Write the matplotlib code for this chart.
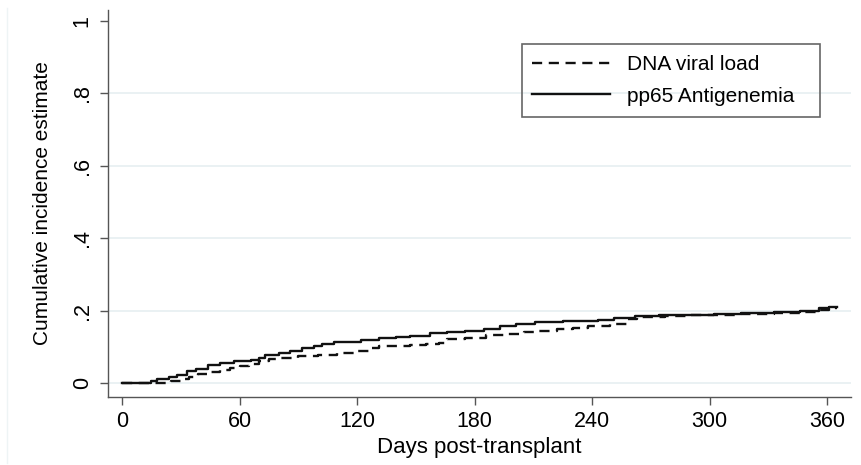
import matplotlib
matplotlib.use("Agg")
import matplotlib.pyplot as plt
from matplotlib.lines import Line2D
from matplotlib.patches import Rectangle

plt.rcParams['font.family'] = ['Liberation Sans', 'DejaVu Sans']

# pp65 Antigenemia (solid) step function
pp65_days = [0, 10, 15, 18, 24, 28, 33, 38, 44, 50, 57, 66, 70, 73, 80, 86, 92, 98,
             102, 108, 114, 122, 131, 140, 147, 157, 166, 175, 185, 193, 201, 211,
             225, 243, 251, 262, 274, 290, 302, 316, 333, 346, 356, 361, 365]
pp65_vals = [0.0, 0.0, 0.005, 0.011, 0.016, 0.022, 0.034, 0.040, 0.050, 0.055, 0.062,
             0.064, 0.070, 0.077, 0.083, 0.088, 0.097, 0.102, 0.108, 0.112, 0.114,
             0.119, 0.124, 0.127, 0.130, 0.138, 0.141, 0.144, 0.150, 0.157, 0.163,
             0.169, 0.171, 0.174, 0.179, 0.185, 0.187, 0.189, 0.191, 0.193, 0.196,
             0.200, 0.206, 0.210, 0.210]

# DNA viral load (dashed) step function
dna_days = [0, 20, 25, 30, 34, 39, 44, 50, 55, 60, 65, 70, 75, 80, 90, 100, 110, 120,
            126, 131, 147, 155, 162, 166, 175, 186, 196, 205, 213, 222, 230, 238, 249,
            258, 263, 277, 290, 302, 316, 333, 346, 356, 361, 365]
dna_vals = [0.0, 0.0, 0.005, 0.010, 0.017, 0.024, 0.030, 0.036, 0.041, 0.047, 0.052,
            0.060, 0.066, 0.069, 0.075, 0.078, 0.083, 0.089, 0.097, 0.102, 0.105, 0.108,
            0.110, 0.121, 0.124, 0.132, 0.136, 0.140, 0.145, 0.149, 0.153, 0.157, 0.163,
            0.176, 0.182, 0.184, 0.187, 0.189, 0.191, 0.193, 0.197, 0.203, 0.207, 0.207]

xticks = [0, 60, 120, 180, 240, 300, 360]
yticks = [0, 0.2, 0.4, 0.6, 0.8, 1.0]
ytick_labels = ['0', '.2', '.4', '.6', '.8', '1']
grid_levels = [0, 0.2, 0.4, 0.6, 0.8]

W, H = 861, 465
fig = plt.figure(figsize=(W / 100, H / 100), dpi=100)
ax = fig.add_axes([108 / W, (H - 397) / H, (851 - 108) / W, (397 - 10) / H])

xpd = 1.959
ax.set_xlim((108 - 122) / xpd, (851 - 122) / xpd)
ax.set_ylim((383 - 397) / 362, (383 - 10) / 362)

for g in grid_levels:
    ax.axhline(g, color='#e8f0f2', lw=1.3, zorder=0)

ax.plot(dna_days, dna_vals, drawstyle='steps-post', color='#111111', lw=1.7,
        linestyle=(0, (4.3, 2.8)), label='DNA viral load', zorder=3)
ax.plot(pp65_days, pp65_vals, drawstyle='steps-post', color='#111111', lw=1.7,
        linestyle='-', label='pp65 Antigenemia', zorder=3)

for s in ['top', 'right']:
    ax.spines[s].set_visible(False)
for s in ['left', 'bottom']:
    ax.spines[s].set_color('#555555')
    ax.spines[s].set_linewidth(1.0)

ax.set_xticks(xticks)
ax.set_xticklabels([str(t) for t in xticks], fontsize=15.5)
ax.set_yticks(yticks)
ax.set_yticklabels(ytick_labels, fontsize=15.5, rotation=90, va='center')
ax.tick_params(axis='both', length=6, width=1.0, color='#555555', pad=4)
ax.tick_params(axis='y', pad=5)

ax.set_xlabel('Days post-transplant', fontsize=16, labelpad=4)
ax.set_ylabel('Cumulative incidence estimate', fontsize=15, labelpad=14)

# legend entries (frame drawn separately to match the fixed-width box)
leg = ax.legend(loc='upper left', bbox_to_anchor=(532 / W, 1 - 55 / H),
                bbox_transform=fig.transFigure, fontsize=15, frameon=False,
                handlelength=3.75, handletextpad=0.8,
                borderpad=0, labelspacing=0.6, borderaxespad=0)
fig.add_artist(Rectangle((521.7 / W, 1 - 116.7 / H), (820 - 521.7) / W, (116.7 - 44) / H,
                         transform=fig.transFigure, fill=False,
                         edgecolor='#666666', lw=1.2))

fig.add_artist(Line2D([7 / W, 7 / W], [2 / H, 1 - 8 / H], transform=fig.transFigure,
                      color='#eef4f5', lw=1.0))

fig.savefig('out.png', dpi=100)
